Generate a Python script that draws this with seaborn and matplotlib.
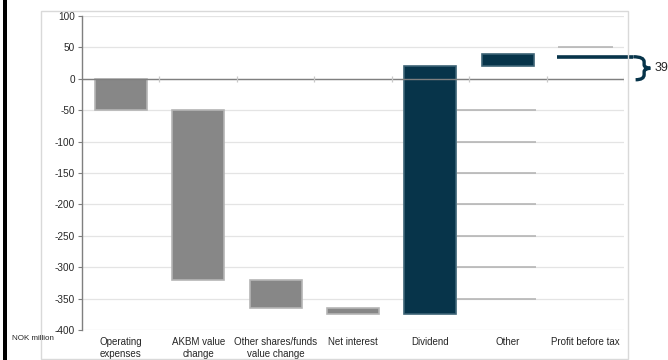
import matplotlib
matplotlib.use("Agg")
import matplotlib.pyplot as plt
from matplotlib.patches import Rectangle, PathPatch
from matplotlib.path import Path
import seaborn as sns
import numpy as np

# ---- data ----
categories = ["Operating\nexpenses", "AKBM value\nchange", "Other shares/funds\nvalue change",
              "Net interest", "Dividend", "Other", "Profit before tax"]
step_changes = [-49, -271, -45, -9, 395, 18]
profit_before_tax = 39
y_ticks = [100, 50, 0, -50, -100, -150, -200, -250, -300, -350, -400]
y_label = "NOK million"

# ---- derived waterfall geometry ----
ends = np.cumsum(step_changes)
starts = ends - np.array(step_changes)

GRAY = "#878787"
TEAL = "#07344a"
colors = [GRAY if c < 0 else TEAL for c in step_changes]
edges = ["#b5b5b5" if c < 0 else "#3d6476" for c in step_changes]

sns.set_theme(style="white")
plt.rcParams["font.family"] = ["Liberation Sans Narrow", "Liberation Sans", "DejaVu Sans"]

fig = plt.figure(figsize=(6.68, 3.60), dpi=100)
ax = fig.add_axes([82 / 668, 1 - 330 / 360, (624 - 82) / 668, (330 - 16) / 360])

# frame decorations
fig.patches.append(Rectangle((41 / 668, 1 - 359 / 360), (628 - 41) / 668, (359 - 11) / 360,
                             transform=fig.transFigure, fill=False, edgecolor="#d9d9d9",
                             linewidth=1, zorder=0))
fig.patches.append(Rectangle((3 / 668, 0), 4 / 668, 1, transform=fig.transFigure,
                             facecolor="black", edgecolor="none", zorder=0))

# gridlines
for t in y_ticks:
    ax.axhline(t, color="#e4e4e4", linewidth=0.9, zorder=0)

sns.barplot(x=categories[:len(step_changes)], y=list(ends - starts), bottom=list(starts),
            order=categories, width=0.67, ax=ax, zorder=3, linewidth=1.2, color=GRAY,
            saturation=1)
for patch, fc, ec in zip(ax.patches, colors, edges):
    patch.set_facecolor(fc)
    patch.set_edgecolor(ec)

# darker gridline segments (as seen in the reference)
for t in y_ticks:
    if -400 < t < 0:
        ax.hlines(t, 4 + 0.345, 5 + 0.366, color="#b0b0b0", linewidth=1.1, zorder=4)
ax.hlines(50, 6 - 0.35, 6 + 0.36, color="#b0b0b0", linewidth=1.1, zorder=4)

# zero axis line with category boundary ticks
ax.axhline(0, color="#7f7f7f", linewidth=1.0, zorder=5)
ax.vlines(np.arange(0.5, len(categories) - 0.4, 1.0), -5, 5, color="#c8c8c8", linewidth=0.9, zorder=5)

ax.set_xlim(-0.5, len(categories) - 0.5)
ax.set_ylim(-400, 100)
ax.set_yticks(y_ticks)
ax.set_yticklabels([str(t) for t in y_ticks])
ax.set_xlabel("")
ax.set_ylabel("")
for s in ["top", "right", "bottom"]:
    ax.spines[s].set_visible(False)
ax.spines["left"].set_color("#7f7f7f")
ax.spines["left"].set_linewidth(1.0)
ax.tick_params(axis="y", length=3, width=0.8, color="#7f7f7f", labelsize=7.2,
               labelcolor="#262626", pad=2, left=True)
ax.tick_params(axis="x", length=0, labelsize=7, labelcolor="#262626", pad=5)
ax.patch.set_alpha(0)

fig.text(12 / 668, 1 - 338 / 360, y_label, fontsize=5.8, color="#262626", va="center", ha="left")

# profit before tax bracket annotation
top = profit_before_tax * 0.9
bot = -1.5
mid = (top + bot) / 2
h = top - bot
x0, x1, x2 = 6.62, 6.76, 6.84
ax.hlines(top, 6 - 0.36, x0, color=TEAL, linewidth=2.6, zorder=6, clip_on=False)
verts = [(x0, top), (x1, top), (x1, top - 0.22 * h),
         (x1, mid + 0.15 * h),
         (x1, mid + 0.02 * h), (x2, mid),
         (x1, mid - 0.02 * h), (x1, mid - 0.15 * h),
         (x1, bot + 0.22 * h),
         (x1, bot), (x0 + 0.03, bot)]
codes = [Path.MOVETO, Path.CURVE3, Path.CURVE3,
         Path.LINETO,
         Path.CURVE3, Path.CURVE3,
         Path.CURVE3, Path.CURVE3,
         Path.LINETO,
         Path.CURVE3, Path.CURVE3]
ax.add_patch(PathPatch(Path(verts, codes), facecolor="none", edgecolor=TEAL, linewidth=2.4,
                       zorder=6, clip_on=False, capstyle="butt", joinstyle="miter"))
ax.text(x2 + 0.05, mid, str(profit_before_tax), fontsize=9, color="#262626",
        ha="left", va="center", clip_on=False)

fig.savefig("out.png", dpi=100)
